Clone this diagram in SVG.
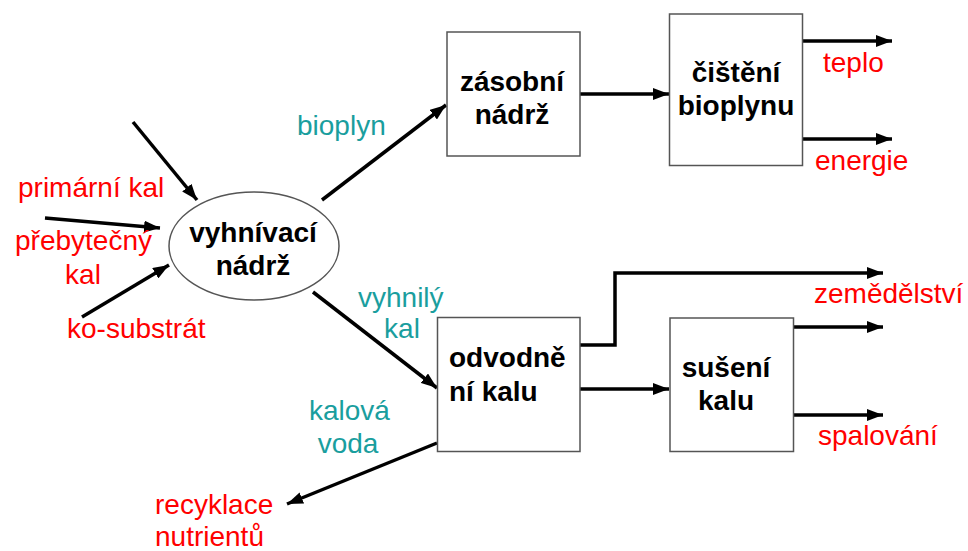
<svg xmlns="http://www.w3.org/2000/svg" width="968" height="551" viewBox="0 0 968 551">
<style>
.box{fill:#fff;stroke:#555;stroke-width:1.5}
.node{font-family:"Liberation Sans",Arial,sans-serif;font-size:28px;font-weight:bold;fill:#000}
.lbl{font-family:"Liberation Sans",Arial,sans-serif;font-size:28px;fill:#ff0000}
.flow{font-family:"Liberation Sans",Arial,sans-serif;font-size:28px;fill:#1a9e9e}
.c{fill:none;stroke:#000;stroke-width:3.5;marker-end:url(#ah)}
</style>
<defs>
<marker id="ah" markerUnits="userSpaceOnUse" markerWidth="16" markerHeight="12" refX="16" refY="6" orient="auto">
<path d="M0,0 L16,6 L0,12 Z" fill="#000"/>
</marker>
</defs>
<rect width="968" height="551" fill="#fff"/>
<g id="connectors">
<line class="c" x1="133" y1="122" x2="197" y2="200"/>
<line class="c" x1="45" y1="218" x2="160" y2="228"/>
<line class="c" x1="82" y1="317" x2="169" y2="265"/>
<line class="c" x1="322" y1="200" x2="446" y2="105"/>
<line class="c" x1="580" y1="94" x2="669" y2="94"/>
<line class="c" x1="803" y1="41" x2="892" y2="41"/>
<line class="c" x1="803" y1="139" x2="892" y2="139"/>
<line class="c" x1="313" y1="292" x2="437" y2="388"/>
<line class="c" x1="437" y1="443" x2="287" y2="504"/>
<polyline class="c" points="580,345 615,345 615,273 883,273"/>
<line class="c" x1="580" y1="389" x2="669" y2="389"/>
<line class="c" x1="794" y1="327" x2="883" y2="327"/>
<line class="c" x1="794" y1="415" x2="883" y2="415"/>
</g>
<g id="vyhnivaci">
<ellipse cx="254" cy="246" rx="85" ry="54" fill="#fff" stroke="#555" stroke-width="1.5"/>
<text class="node" x="253" y="242" text-anchor="middle">vyhnívací</text>
<text class="node" x="253" y="275" text-anchor="middle">nádrž</text>
</g>
<g id="zasobni">
<rect class="box" x="447" y="32" width="133" height="124"/>
<text class="node" x="512" y="91" text-anchor="middle">zásobní</text>
<text class="node" x="512" y="124" text-anchor="middle">nádrž</text>
</g>
<g id="cisteni">
<rect class="box" x="669.5" y="14" width="133" height="151.5"/>
<text class="node" x="736" y="82" text-anchor="middle">čištění</text>
<text class="node" x="736" y="115" text-anchor="middle">bioplynu</text>
</g>
<g id="odvodneni">
<rect class="box" x="437.5" y="317.5" width="142.5" height="134"/>
<text class="node" x="449" y="367">odvodně</text>
<text class="node" x="449" y="401">ní kalu</text>
</g>
<g id="suseni">
<rect class="box" x="670" y="318" width="123.5" height="133.5"/>
<text class="node" x="726" y="377" text-anchor="middle">sušení</text>
<text class="node" x="726" y="410" text-anchor="middle">kalu</text>
</g>
<g id="labels">
<text class="lbl" x="18" y="197">primární kal</text>
<text class="lbl" x="15" y="250">přebytečný</text>
<text class="lbl" x="83" y="284" text-anchor="middle">kal</text>
<text class="lbl" x="67" y="338">ko-substrát</text>
<text class="lbl" x="823" y="72">teplo</text>
<text class="lbl" x="815" y="170">energie</text>
<text class="lbl" x="814" y="303">zemědělství</text>
<text class="lbl" x="818" y="445">spalování</text>
<text class="lbl" x="155" y="514">recyklace</text>
<text class="lbl" x="155" y="546">nutrientů</text>
<text class="flow" x="297" y="135">bioplyn</text>
<text class="flow" x="358" y="307">vyhnilý</text>
<text class="flow" x="402" y="338" text-anchor="middle">kal</text>
<text class="flow" x="309" y="420">kalová</text>
<text class="flow" x="348" y="453" text-anchor="middle">voda</text>
</g>
</svg>
